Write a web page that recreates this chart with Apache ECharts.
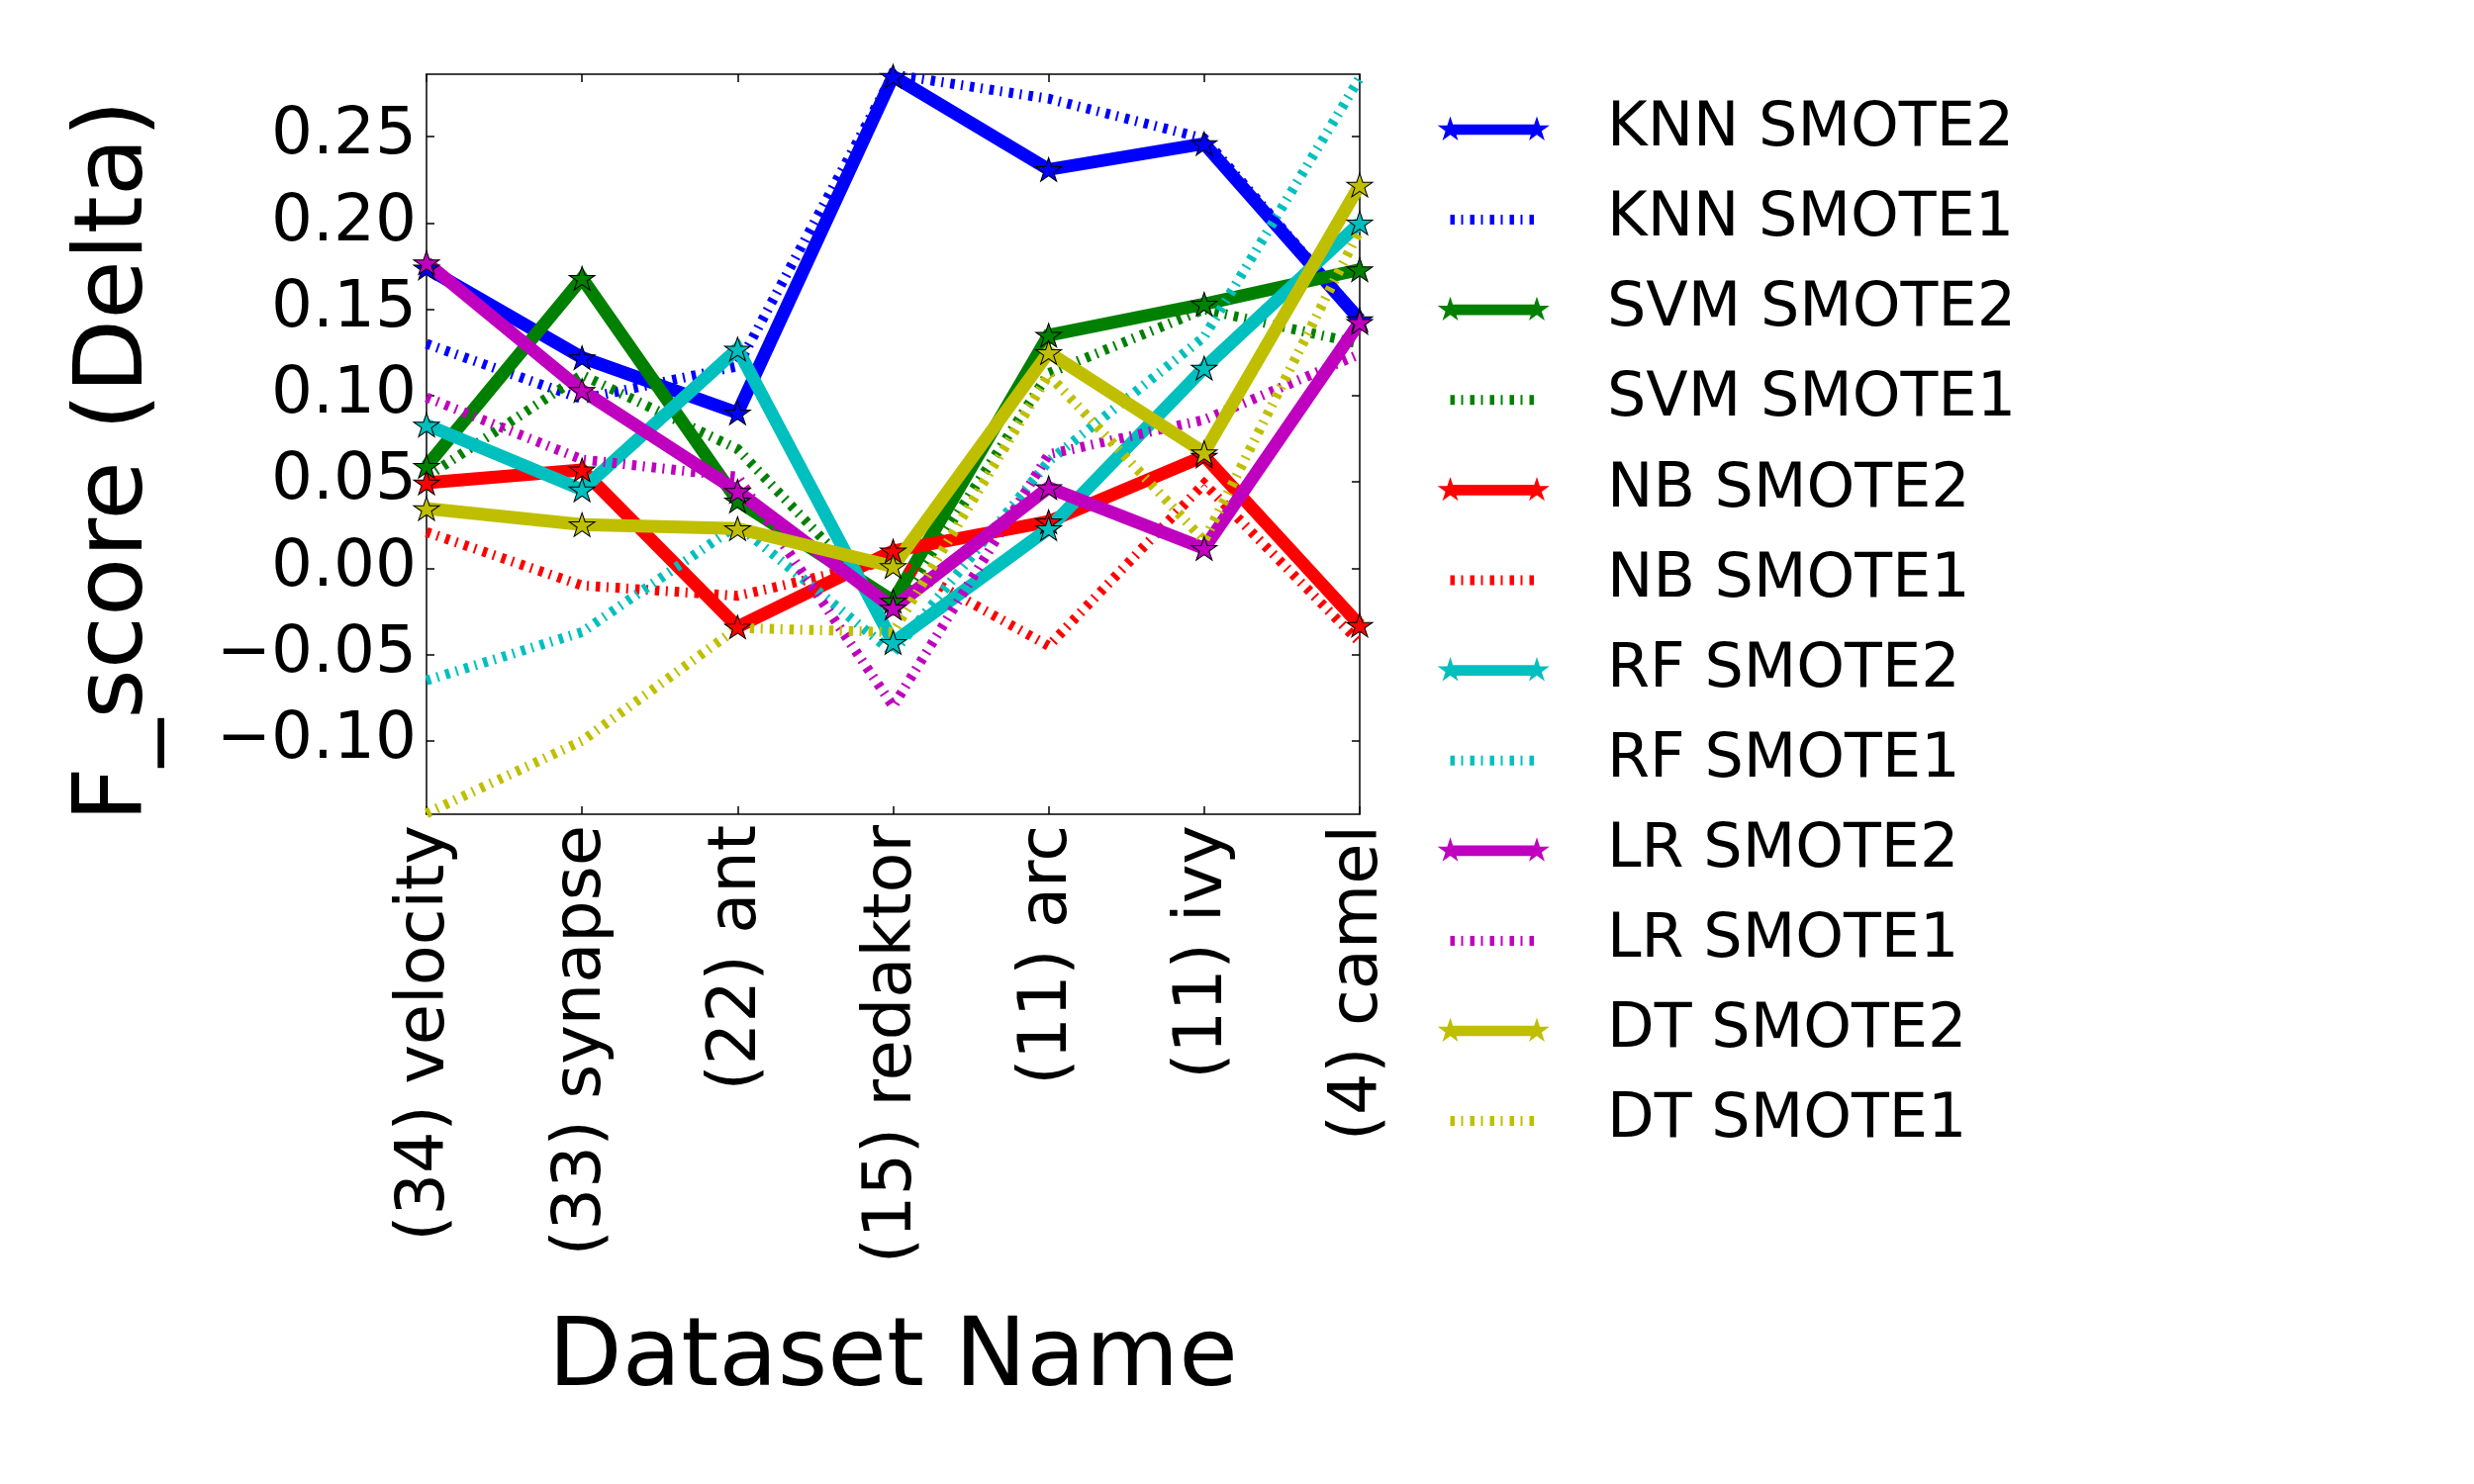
<!DOCTYPE html>
<html>
<head>
<meta charset="utf-8">
<script src="https://cdn.jsdelivr.net/npm/echarts@6/dist/echarts.min.js"></script>
<style>
  html, body { margin: 0; background: #fff; }
  #chart { width: 2500px; height: 1500px; }
</style>
</head>
<body>
<div id="chart"></div>
<script>
// data
const categories = ['(34) velocity', '(33) synapse', '(22) ant', '(15) redaktor', '(11) arc', '(11) ivy', '(4) camel']
const yTicks = [-0.10, -0.05, 0, 0.05, 0.10, 0.15, 0.20, 0.25]
const yMin = -0.1425
const yMax = 0.2862

const knnSmote2 = [0.174, 0.122, 0.090, 0.285, 0.231, 0.246, 0.144]
const knnSmote1 = [0.130, 0.098, 0.117, 0.286, 0.272, 0.249, 0.145]
const svmSmote2 = [0.059, 0.168, 0.039, -0.019, 0.135, 0.153, 0.173]
const svmSmote1 = [0.053, 0.112, 0.069, -0.026, 0.113, 0.150, 0.130]
const nbSmote2 = [0.0495, 0.057, -0.034, 0.010, 0.027, 0.065, -0.033]
const nbSmote1 = [0.021, -0.010, -0.016, 0.005, -0.045, 0.049, -0.043]
const rfSmote2 = [0.083, 0.0455, 0.127, -0.043, 0.023, 0.116, 0.200]
const rfSmote1 = [-0.065, -0.037, 0.025, -0.049, 0.062, 0.134, 0.284]
const lrSmote2 = [0.177, 0.103, 0.0446, -0.023, 0.0467, 0.0115, 0.1425]
const lrSmote1 = [0.099, 0.063, 0.053, -0.080, 0.066, 0.086, 0.124]
const dtSmote2 = [0.0346, 0.0253, 0.023, 0.001, 0.125, 0.067, 0.222]
const dtSmote1 = [-0.142, -0.100, -0.0346, -0.037, 0.112, 0.016, 0.196]

const seriesDefs = [
  ['KNN SMOTE2', knnSmote2, '#0000ff', true],
  ['KNN SMOTE1', knnSmote1, '#0000ff', false],
  ['SVM SMOTE2', svmSmote2, '#008000', true],
  ['SVM SMOTE1', svmSmote1, '#008000', false],
  ['NB SMOTE2', nbSmote2, '#ff0000', true],
  ['NB SMOTE1', nbSmote1, '#ff0000', false],
  ['RF SMOTE2', rfSmote2, '#00bfbf', true],
  ['RF SMOTE1', rfSmote1, '#00bfbf', false],
  ['LR SMOTE2', lrSmote2, '#bf00bf', true],
  ['LR SMOTE1', lrSmote1, '#bf00bf', false],
  ['DT SMOTE2', dtSmote2, '#bfbf00', true],
  ['DT SMOTE1', dtSmote1, '#bfbf00', false],
]

const FONT = 'DejaVu Sans'
const dashPattern = [4.5, 6.5, 2, 7]

// 5-point star outline, clockwise on screen
function star(cx, cy, R) {
  const r = R * 0.382
  let d = ''
  for (let k = 0; k < 10; k++) {
    const a = (-90 + 36 * k) * Math.PI / 180
    const rr = k % 2 ? r : R
    d += (k ? 'L' : 'M') + (cx + rr * Math.cos(a)).toFixed(2) + ' ' + (cy + rr * Math.sin(a)).toFixed(2)
  }
  return d + 'Z'
}

const starSymbol = 'path://' + star(20, 20, 20)

// legend icons: box 114 x 28, star centres at 13.5 and 101
const iconW = 114, iconH = 28
const corners = 'M0 0L0 0ZM' + iconW + ' ' + iconH + 'L' + iconW + ' ' + iconH + 'Z'
const solidIcon = 'path://' + corners +
  'M13.5 8.65L101 8.65L101 19.35L13.5 19.35Z' + star(13.5, 14, 13.5) + star(101, 14, 13.5)
let dotIcon = 'path://' + corners
for (let x = 13.5; x < 96; ) {
  for (let i = 0; i < dashPattern.length && x < 96; i++) {
    const w = dashPattern[i]
    if (i % 2 === 0) dotIcon += 'M' + x + ' 9L' + (x + w) + ' 9L' + (x + w) + ' 19L' + x + ' 19Z'
    x += w
  }
}

const series = seriesDefs.map(([name, data, color, solid]) => ({
  name,
  type: 'line',
  data,
  color,
  symbol: solid ? starSymbol : 'none',
  symbolSize: [26, 25],
  symbolKeepAspect: true,
  showAllSymbol: true,
  itemStyle: { color, borderColor: '#000', borderWidth: 1 },
  lineStyle: { color, width: solid ? 13 : 10, type: solid ? 'solid' : dashPattern, cap: 'butt', join: 'miter' },
  emphasis: { disabled: true },
}))

const tickLabel = (v) => (v < 0 ? '\u2212' : '') + Math.abs(v).toFixed(2)
const frameLine = { onZero: false, lineStyle: { color: '#000', width: 1.5 } }
const frameTick = { lineStyle: { color: '#000', width: 1.5 } }

const chart = echarts.init(document.getElementById('chart'))
chart.setOption({
  animation: false,
  backgroundColor: '#fff',
  textStyle: { fontFamily: FONT, color: '#000' },
  grid: { left: 431, right: 2500 - 1374, top: 75, bottom: 1500 - 823, containLabel: false, outerBoundsMode: 'none' },
  legend: {
    orient: 'vertical',
    left: 1452,
    top: 91,
    padding: 0,
    itemWidth: iconW,
    itemHeight: iconH,
    itemGap: 11.1,
    selectedMode: false,
    itemStyle: { borderWidth: 0 },
    textStyle: { fontFamily: FONT, fontSize: 62, lineHeight: 62, color: '#000', padding: [18, 0, 0, 53] },
    data: seriesDefs.map(([name, , , solid]) => ({ name, icon: solid ? solidIcon : dotIcon })),
  },
  xAxis: [
    {
      type: 'category',
      data: categories,
      boundaryGap: false,
      name: 'Dataset Name',
      nameLocation: 'middle',
      nameGap: 503,
      nameTextStyle: { fontFamily: FONT, fontSize: 97, color: '#000' },
      axisLine: frameLine,
      axisTick: { inside: true, length: 8, alignWithLabel: true, ...frameTick },
      axisLabel: { rotate: 90, margin: 11, fontFamily: FONT, fontSize: 67, color: '#000', interval: 0 },
      splitLine: { show: false },
    },
    {
      type: 'category',
      data: categories,
      boundaryGap: false,
      position: 'top',
      axisLine: frameLine,
      axisTick: { inside: true, length: 8, alignWithLabel: true, ...frameTick },
      axisLabel: { show: false },
      splitLine: { show: false },
    },
  ],
  yAxis: [
    {
      type: 'value',
      min: yMin,
      max: yMax,
      name: 'F_score (Delta)',
      nameLocation: 'middle',
      nameRotate: 90,
      nameGap: 265,
      nameTextStyle: { fontFamily: FONT, fontSize: 97, color: '#000', padding: [0, 34, 0, 0] },
      axisLine: { show: true, ...frameLine },
      axisTick: { show: true, inside: true, length: 8, customValues: yTicks, ...frameTick },
      axisLabel: { margin: 10, fontFamily: FONT, fontSize: 66, color: '#000', customValues: yTicks, formatter: tickLabel },
      splitLine: { show: false },
    },
    {
      type: 'value',
      min: yMin,
      max: yMax,
      position: 'right',
      axisLine: { show: true, ...frameLine },
      axisTick: { show: true, inside: true, length: 8, customValues: yTicks, ...frameTick },
      axisLabel: { show: false },
      splitLine: { show: false },
    },
  ],
  series,
})
</script>
</body>
</html>
